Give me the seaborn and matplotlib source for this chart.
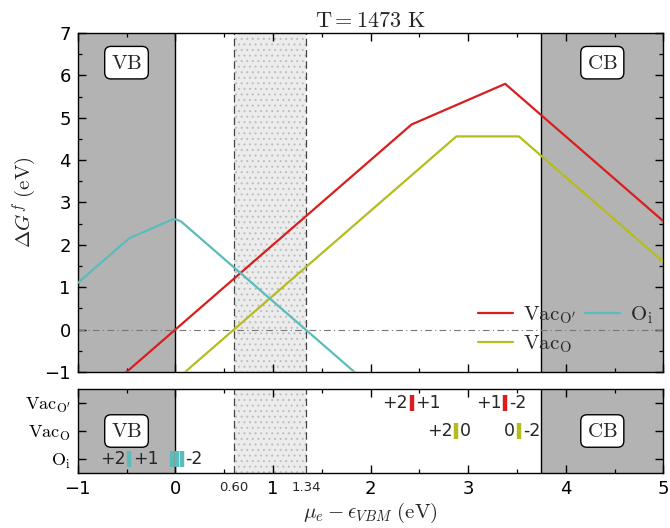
import numpy as np
import pandas as pd
import matplotlib
matplotlib.use("Agg")
import matplotlib.pyplot as plt
import matplotlib.transforms as mtransforms
from matplotlib.lines import Line2D
import seaborn as sns

sns.set_theme(style="ticks")
plt.rcParams["font.family"] = ["DejaVu Sans"]
plt.rcParams["mathtext.fontset"] = "cm"
plt.rcParams["hatch.color"] = "#bdbdbd"
plt.rcParams["hatch.linewidth"] = 0.7

# ---------------- data ----------------
title = r"$\mathrm{T = 1473\ K}$"
x_min, x_max = -1.0, 5.0
vbm_edge, cbm_edge = 0.0, 3.75
window_lo, window_hi = 0.60, 1.34
window_labels = ["0.60", "1.34"]

defects = [r"$\mathrm{Vac_{O^{\prime}}}$", r"$\mathrm{Vac_O}$", r"$\mathrm{O_i}$"]
colors = ["#d81e1e", "#b5bd1e", "#5bbcbc"]

# formation energy breakpoints (x: Fermi level, y: formation energy)
vacop_x = [-1.0, 2.42, 3.38, 5.0]
vacop_y = [-2.0, 4.84, 5.80, 2.56]
vaco_x = [-1.0, 2.88, 3.52, 5.0]
vaco_y = [-3.20, 4.56, 4.56, 1.60]
oi_x = [-1.0, -0.47, -0.03, 0.01, 0.06, 5.0]
oi_y = [1.10, 2.16, 2.60, 2.60, 2.55, -7.33]

# transition levels (bottom panel)
vacop_trans = [2.42, 3.38]
vacop_left = ["+2", "+1"]
vacop_right = ["+1", "-2"]
vaco_trans = [2.88, 3.52]
vaco_left = ["+2", "0"]
vaco_right = ["0", "-2"]
oi_trans = [-0.47, -0.035, 0.015, 0.065]
oi_left = ["+2", "", "", ""]
oi_right = ["+1", "", "", "-2"]

# ---------------- figure ----------------
fig = plt.figure(figsize=(6.7, 5.28), dpi=100)
ax = fig.add_axes([0.116, 0.2955, 0.874, 0.642])
ax2 = fig.add_axes([0.116, 0.1042, 0.874, 0.159])

gray = "#b3b3b3"
for a in (ax, ax2):
    a.axvspan(x_min, vbm_edge, color=gray, zorder=0, lw=0)
    a.axvspan(cbm_edge, x_max, color=gray, zorder=0, lw=0)
    a.axvline(vbm_edge, color="black", lw=1.0, zorder=1)
    a.axvline(cbm_edge, color="black", lw=1.0, zorder=1)
    a.axvspan(window_lo, window_hi, facecolor="#ececec", edgecolor="#bdbdbd",
              hatch="...", lw=0, zorder=0)
    a.axvline(window_lo, color="#444444", lw=0.9, ls=(0, (6, 3)), zorder=1)
    a.axvline(window_hi, color="#444444", lw=0.9, ls=(0, (6, 3)), zorder=1)

frames = []
for name, xs, ys in zip(defects, [vacop_x, vaco_x, oi_x], [vacop_y, vaco_y, oi_y]):
    frames.append(pd.DataFrame({"mu": xs, "E": ys, "defect": name}))
df = pd.concat(frames, ignore_index=True)

sns.lineplot(data=df, x="mu", y="E", hue="defect", palette=dict(zip(defects, colors)),
             sort=False, estimator=None, units="defect", lw=1.6, ax=ax, zorder=3, legend=False)

ax.axhline(0, color="#777777", lw=0.8, ls=(0, (6, 3, 1, 3)), zorder=2)

ax.set_xlim(x_min, x_max)
ax.set_ylim(-1, 7)
ax.set_yticks(range(-1, 8))
ax.set_yticks(np.arange(-0.5, 7.0, 1.0), minor=True)
ax.set_xticks(range(-1, 6))
ax.set_xticks(np.arange(-0.5, 5.0, 1.0), minor=True)
ax.tick_params(axis="x", labelbottom=False)
ax.set_xlabel("")
ax.set_ylabel(r"$\Delta G^f\ \mathrm{(eV)}$", fontsize=15, labelpad=4)
ax.set_title(title, fontsize=16, pad=4)

handles = [Line2D([], [], color=c, lw=1.6) for c in colors]
ax.legend(handles, defects, ncol=2, loc="lower right", frameon=False, fontsize=15,
          bbox_to_anchor=(1.015, -0.005), handlelength=1.7, columnspacing=0.4,
          handletextpad=0.5, labelspacing=0.35)

box = dict(boxstyle="round,pad=0.3,rounding_size=0.3", fc="white", ec="black", lw=1.0)
ax.text((x_min + vbm_edge) / 2, 6.3, r"$\mathrm{VB}$", ha="center", va="center",
        fontsize=15, bbox=box, zorder=5)
ax.text((cbm_edge + x_max) / 2, 6.3, r"$\mathrm{CB}$", ha="center", va="center",
        fontsize=15, bbox=box, zorder=5)

# ---------------- bottom panel ----------------
rows = [2, 1, 0]
trans_all = [vacop_trans, vaco_trans, oi_trans]
left_all = [vacop_left, vaco_left, oi_left]
right_all = [vacop_right, vaco_right, oi_right]
for row, tr, lab_l, lab_r, col in zip(rows, trans_all, left_all, right_all, colors):
    tdf = pd.DataFrame({"x": tr, "y": [row] * len(tr)})
    ax2.vlines(tdf["x"], tdf["y"] - 0.3, tdf["y"] + 0.3, color=col, lw=3.2, zorder=4)
    for xv, ll, rl in zip(tr, lab_l, lab_r):
        if ll:
            ax2.text(xv - 0.04, row, ll, ha="right", va="center", fontsize=12.5, zorder=5)
        if rl:
            ax2.text(xv + 0.04, row, rl, ha="left", va="center", fontsize=12.5, zorder=5)

ax2.text((x_min + vbm_edge) / 2, 1, r"$\mathrm{VB}$", ha="center", va="center",
         fontsize=15, bbox=box, zorder=5)
ax2.text((cbm_edge + x_max) / 2, 1, r"$\mathrm{CB}$", ha="center", va="center",
         fontsize=15, bbox=box, zorder=5)

ax2.set_xlim(x_min, x_max)
ax2.set_ylim(-0.5, 2.5)
ax2.set_yticks(rows)
ax2.set_yticklabels(defects, fontsize=13)
ax2.set_xticks(range(-1, 6))
ax2.set_xticks(np.arange(-0.5, 5.0, 1.0), minor=True)
trans = mtransforms.blended_transform_factory(ax2.transData, ax2.transAxes)
for xv, lab in zip([window_lo, window_hi], window_labels):
    ax2.text(xv, -0.09, lab, transform=trans, ha="center", va="top", fontsize=9.5)
ax2.set_xlabel(r"$\mu_e - \epsilon_{VBM}\ \mathrm{(eV)}$", fontsize=15, labelpad=2)
ax2.set_ylabel("")

for a in (ax, ax2):
    a.tick_params(which="both", direction="in", top=True, right=True, colors="black")
    a.tick_params(which="major", length=6, width=1.0, labelsize=13, pad=5)
    a.tick_params(which="minor", length=3, width=0.9)
    for s in a.spines.values():
        s.set_visible(True)
        s.set_color("black")
        s.set_linewidth(1.0)
ax2.tick_params(axis="y", labelsize=13)

fig.savefig("out.png", dpi=100)
